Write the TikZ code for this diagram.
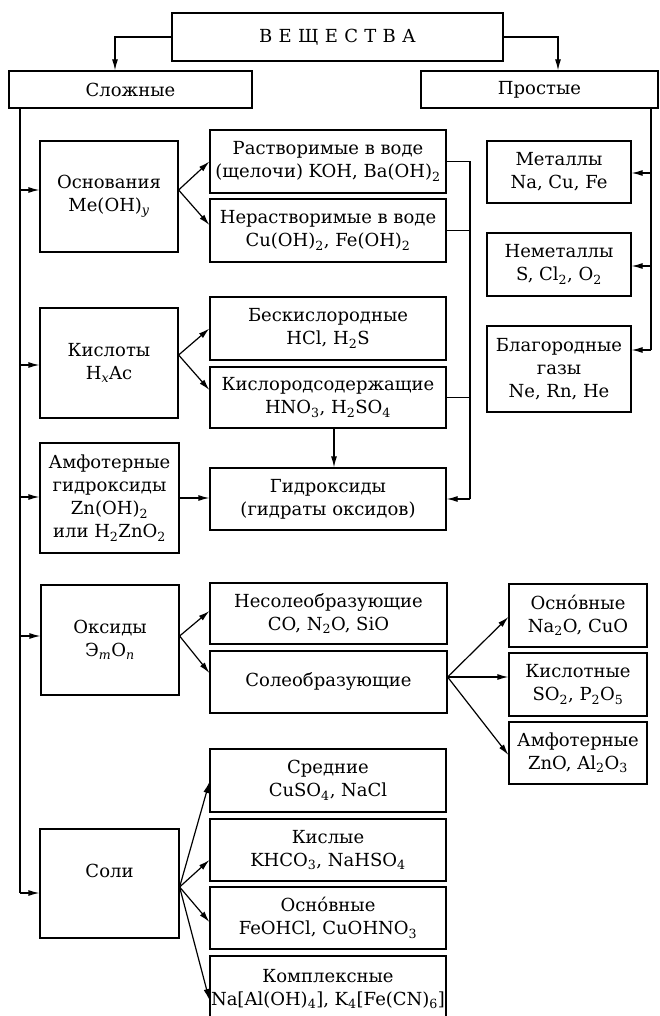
\documentclass[tikz,border=0pt]{standalone}
\usepackage{fontspec}
\setmainfont{DejaVu Serif}
\usetikzlibrary{arrows.meta,calc}
\newcommand\sbs[1]{\textsubscript{#1}}
\newcommand\sbi[1]{\textsubscript{\itshape #1}}
\begin{document}
\begin{tikzpicture}[x=1pt,y=-1pt,
  box/.style={draw, line width=1.2pt, align=center, inner sep=0pt, font=\fontsize{18}{23}\selectfont},
  arr/.style={line width=1.2pt, -{Latex[length=11pt,width=6pt]}},
  ln/.style={line width=1.2pt},
  wh/.style 2 args={minimum width=#1pt, minimum height=#2pt}]
\fill[white] (0,0) rectangle (660,1016);
\useasboundingbox (0,0) rectangle (660,1016);
% top
\node[box,wh={331}{48}] (top) at (337.5,37) {\addfontfeature{LetterSpace=35}ВЕЩЕСТВА};
\node[box,wh={243}{37}] (slozh) at (130.5,89.5) {Сложные};
\node[box,wh={237}{37}] (prost) at (539.5,89.5) {Простые};
% bases
\node[box,wh={138}{111}] (osn) at (109,196.5) {Основания\\Me(OH)\sbi{y}};
\node[box,wh={236}{63}] (rast) at (328,161.5) {Растворимые в воде\\(щелочи) KOH, Ba(OH)\sbs{2}};
\node[box,wh={236}{63}] (nerast) at (328,230.5) {Нерастворимые в воде\\Cu(OH)\sbs{2}, Fe(OH)\sbs{2}};
% acids
\node[box,wh={138}{110}] (kisl) at (109,363) {Кислоты\\H\sbi{x}Ac};
\node[box,wh={236}{63}] (beskisl) at (328,328.5) {Бескислородные\\HCl, H\sbs{2}S};
\node[box,wh={236}{61}] (kislsod) at (328,397.5) {Кислородсодержащие\\HNO\sbs{3}, H\sbs{2}SO\sbs{4}};
% amphoteric hydroxides
\node[box,wh={139}{110}] (amf) at (109.5,498) {Амфотерные\\гидроксиды\\Zn(OH)\sbs{2}\\или H\sbs{2}ZnO\sbs{2}};
\node[box,wh={236}{62}] (gidr) at (328,499) {Гидроксиды\\(гидраты оксидов)};
% oxides
\node[box,wh={138}{110}] (oks) at (110,640) {Оксиды\\Э\sbi{m}O\sbi{n}};
\node[box,wh={237}{61}] (nesol) at (328.5,613.5) {Несолеобразующие\\CO, N\sbs{2}O, SiO};
\node[box,wh={237}{62}] (solobr) at (328.5,682) {Солеобразующие};
\node[box,wh={138}{63}] (osnox) at (578,615.5) {Осно́вные\\Na\sbs{2}O, CuO};
\node[box,wh={138}{63}] (kislox) at (578,684.5) {Кислотные\\SO\sbs{2}, P\sbs{2}O\sbs{5}};
\node[box,wh={138}{62}] (amfox) at (578,753) {Амфотерные\\ZnO, Al\sbs{2}O\sbs{3}};
% salts
\node[box,wh={139}{109}] (soli) at (109.5,883.5) {\raisebox{11pt}[0.7em][0.2em]{Соли}};
\node[box,wh={236}{63}] (sred) at (328,780.5) {Средние\\CuSO\sbs{4}, NaCl};
\node[box,wh={236}{62}] (kislye) at (328,850) {Кислые\\KHCO\sbs{3}, NaHSO\sbs{4}};
\node[box,wh={236}{62}] (osnsol) at (328,918) {Осно́вные\\FeOHCl, CuOHNO\sbs{3}};
\node[box,wh={236}{66}] (kompl) at (328,989) {Комплексные\\Na[Al(OH)\sbs{4}], K\sbs{4}[Fe(CN)\sbs{6}]};
% simple substances
\node[box,wh={144}{62}] (met) at (559,172) {Металлы\\Na, Cu, Fe};
\node[box,wh={144}{63}] (nemet) at (559,264.5) {Неметаллы\\S, Cl\sbs{2}, O\sbs{2}};
\node[box,wh={144}{86}] (blag) at (559,369) {Благородные\\газы\\Ne, Rn, He};
% connectors top
\draw[arr] (top.west) -| ([xshift=-15.5pt]slozh.north);
\draw[arr] (top.east) -| ([xshift=18.5pt]prost.north);
% left trunk
\coordinate (t1) at (20,190);
\coordinate (t2) at (20,365);
\coordinate (t3) at (20,497);
\coordinate (t4) at (20,636);
\coordinate (t5) at (20,893);
\draw[ln] (slozh.south -| t5) -- (t5);
\draw[arr] (t1) -- (t1 -| osn.west);
\draw[arr] (t2) -- (t2 -| kisl.west);
\draw[arr] (t3) -- (t3 -| amf.west);
\draw[arr] (t4) -- (t4 -| oks.west);
\draw[arr] (t5) -- (t5 -| soli.west);
% right trunk
\coordinate (r1) at (651,173);
\coordinate (r2) at (651,266);
\coordinate (r3) at (651,350);
\draw[ln] (prost.south -| r3) -- (r3);
\draw[arr] (r1) -- (r1 -| met.east);
\draw[arr] (r2) -- (r2 -| nemet.east);
\draw[arr] (r3) -- (r3 -| blag.east);
% bases fork
\coordinate (fo) at ([yshift=6.5pt]osn.east);
\draw[arr] (fo) -- (rast.west);
\draw[arr] (fo) -- ([yshift=5.5pt]nerast.west);
% acids fork
\coordinate (fk) at ([yshift=8pt]kisl.east);
\draw[arr] (fk) -- (beskisl.west);
\draw[arr] (fk) -- ([yshift=7.5pt]kislsod.west);
% bracket to hydroxides
\coordinate (b4) at (470,499);
\draw[ln] (rast.east) -| (b4);
\draw[ln] (nerast.east) -- (nerast.east -| b4);
\draw[ln] (kislsod.east) -- (kislsod.east -| b4);
\draw[arr] (b4) -- (gidr.east);
\draw[arr] ([xshift=6pt]kislsod.south) -- ([xshift=6pt]gidr.north);
\draw[arr] (amf.east) -- (amf.east -| gidr.west);
% oxides forks
\coordinate (fx) at ([yshift=4pt]oks.east);
\draw[arr] (fx) -- ([yshift=2.5pt]nesol.west);
\draw[arr] (fx) -- ([yshift=9pt]solobr.west);
\coordinate (fs) at ([yshift=5pt]solobr.east);
\draw[arr] (fs) -- ([yshift=-1.5pt]osnox.west);
\draw[arr] (fs) -- ([yshift=7.5pt]kislox.west);
\draw[arr] (fs) -- ([yshift=-2pt]amfox.west);
% salts fork
\coordinate (fso) at ([yshift=-3.5pt]soli.east);
\draw[arr] (fso) -- ([yshift=-1.5pt]sred.west);
\draw[arr] (fso) -- ([yshift=-10pt]kislye.west);
\draw[arr] (fso) -- ([yshift=-4pt]osnsol.west);
\draw[arr] (fso) -- ([yshift=-11pt]kompl.west);
\end{tikzpicture}
\end{document}
